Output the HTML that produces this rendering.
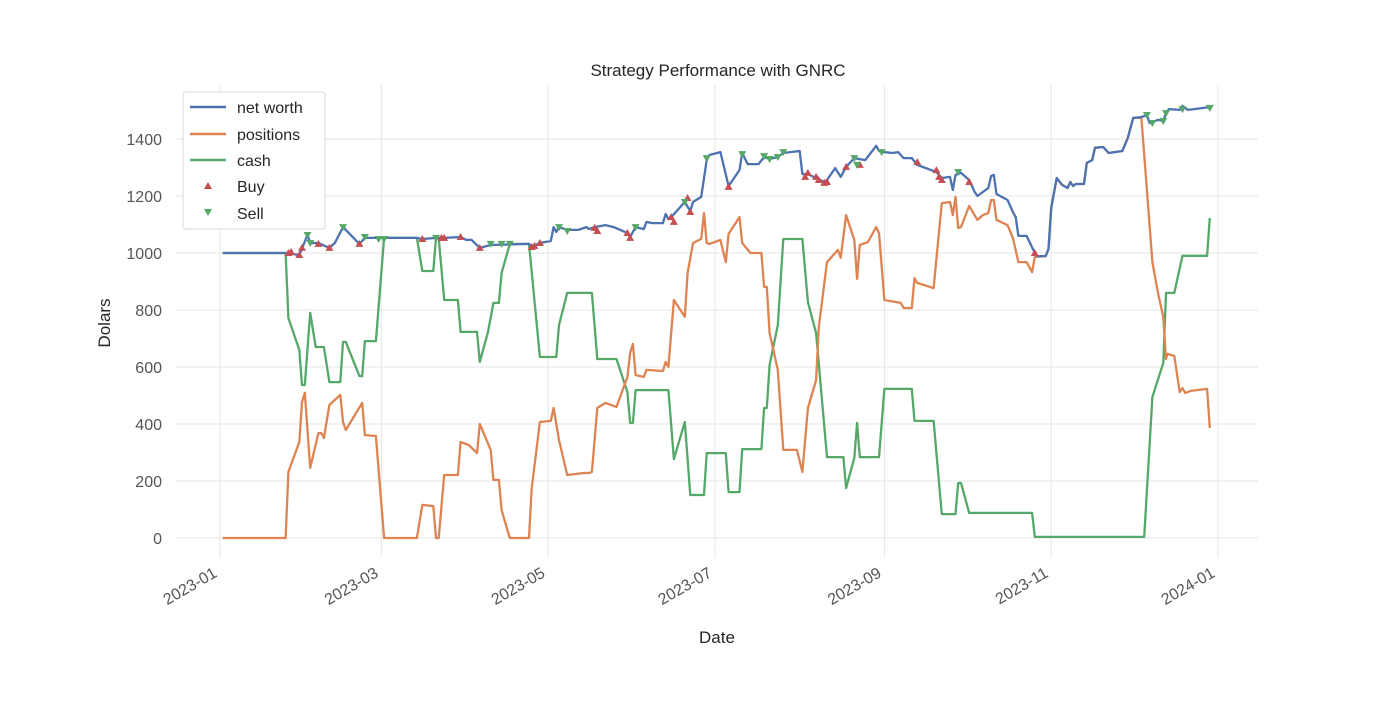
<!DOCTYPE html>
<html><head><meta charset="utf-8"><style>
body{margin:0;background:#fff;}
svg text{font-family:"Liberation Sans","DejaVu Sans",sans-serif;}
</style></head><body>
<svg id="chart" width="1400" height="700" xmlns="http://www.w3.org/2000/svg">
<rect x="0" y="0" width="1400" height="700" fill="#fff"/>
<g id="grid"></g>
<g id="series"></g>
<g id="axes"></g>
<text x="718" y="76" text-anchor="middle" font-size="17" fill="#262626">Strategy Performance with GNRC</text>
<text x="717" y="643" text-anchor="middle" font-size="17" fill="#262626">Date</text>
<text x="0" y="0" transform="translate(110,323) rotate(-90)" text-anchor="middle" font-size="17" fill="#262626">Dolars</text>
<g>
<rect x="183" y="92" width="142" height="137" rx="3" fill="#fff" fill-opacity="0.85" stroke="#d9d9d9"/>
<line x1="190" y1="107" x2="226" y2="107" stroke="#4c72b0" stroke-width="2.5"/>
<text x="237" y="113" font-size="16" fill="#262626">net worth</text>
<line x1="190" y1="134" x2="226" y2="134" stroke="#dd8452" stroke-width="2.5"/>
<text x="237" y="140" font-size="16" fill="#262626">positions</text>
<line x1="190" y1="160" x2="226" y2="160" stroke="#55a868" stroke-width="2.5"/>
<text x="237" y="166" font-size="16" fill="#262626">cash</text>
<polygon points="208,182 204,189 212,189" fill="#c44e52"/>
<text x="237" y="192" font-size="16" fill="#262626">Buy</text>
<polygon points="204,209 212,209 208,216" fill="#55a868"/>
<text x="237" y="219" font-size="16" fill="#262626">Sell</text>
</g>
</svg>
<script>
const xTickLabels=["2023-01","2023-03","2023-05","2023-07","2023-09","2023-11","2024-01"];
const xTickDays=[0,59,120,181,243,304,365];
const yTicks=[0,200,400,600,800,1000,1200,1400];
const netDays=[1,24,29,32,33,36,40,42,45,51,53,60,72,74,79,82,88,90,92,95,99,113,114,117,121,122,123,124,127,131,134,135,137,141,144,149,150,152,155,156,158,162,163,164,165,170,172,173,176,178,179,183,186,190,191,193,197,199,201,204,206,212,213,215,221,222,225,227,229,232,236,240,241,243,246,248,250,253,255,257,262,264,267,268,269,271,274,276,277,279,281,282,283,284,288,290,291,292,295,298,299,302,303,304,306,308,310,311,312,313,316,317,319,320,323,325,330,332,334,337,339,340,343,345,346,347,351,352,354,362];
const netValues=[1000,1000,993,1063,1035,1035,1018,1035,1091,1032,1053,1053,1053,1049,1053,1053,1056,1046,1046,1018,1028,1032,1021,1035,1042,1091,1074,1091,1081,1081,1091,1084,1091,1098,1091,1070,1056,1091,1084,1109,1105,1105,1137,1119,1126,1179,1147,1179,1197,1326,1344,1354,1235,1291,1351,1312,1312,1337,1330,1337,1351,1358,1277,1277,1249,1256,1298,1267,1302,1333,1326,1376,1358,1354,1351,1354,1333,1333,1309,1302,1284,1263,1267,1221,1274,1281,1256,1214,1200,1214,1228,1270,1274,1207,1186,1144,1126,1060,1060,1000,989,989,1014,1158,1263,1239,1228,1249,1235,1242,1242,1316,1326,1369,1372,1351,1358,1404,1474,1477,1484,1456,1467,1463,1491,1505,1502,1516,1502,1512];
const posDays=[1,24,25,29,30,31,33,36,37,38,40,44,45,46,52,53,57,60,72,74,78,79,80,82,87,88,91,94,95,99,100,102,103,106,113,114,117,121,122,124,127,133,135,136,138,141,145,149,150,151,152,155,156,162,163,164,166,170,171,173,176,177,178,179,183,185,186,190,191,194,198,199,200,201,204,206,211,213,215,218,219,222,226,227,229,232,233,234,237,240,241,243,249,250,253,254,255,261,264,267,268,269,270,271,274,277,279,281,282,283,284,288,290,292,295,297,298,302,303,304,306,308,310,311,312,313,316,317,319,320,323,325,330,332,334,337,341,343,345,346,346.5,349,351,352,353,355,361,362];
const posValues=[0,0,232,337,477,509,246,368,368,351,467,502,407,379,474,361,358,0,0,116,112,0,0,221,221,337,326,298,400,309,204,204,98,0,0,175,407,411,456,344,221,228,228,232,456,474,460,565,649,681,572,565,590,586,618,600,835,776,930,1035,1049,1140,1035,1032,1046,968,1067,1126,1035,1000,1000,881,881,719,590,309,309,232,456,554,740,968,1011,983,1133,1046,909,1028,1039,1091,1070,835,825,807,807,912,895,877,1175,1179,1133,1197,1088,1091,1165,1116,1133,1140,1186,1186,1116,1098,1053,968,968,933,986,989,1014,1158,1263,1239,1228,1249,1235,1242,1242,1316,1326,1369,1372,1351,1358,1404,1474,1474,968,863,775,628,646,639,512,526,509,516,523,386];
const cashDays=[1,24,25,29,30,31,33,35,38,40,44,45,46,51,52,53,57,60,72,74,78,79,80,82,87,88,94,95,98,100,102,103,106,113,117,123,124,127,136,138,145,149,150,151,152,164,166,170,172,177,178,185,186,190,191,198,199,200,201,204,206,213,215,218,222,228,229,232,233,234,241,243,253,254,261,264,269,270,271,274,297,298,338,341,345,346,349,352,361,362];
const cashValues=[1000,1000,772,660,537,537,790,670,670,547,547,688,688,568,568,691,691,1053,1053,937,937,1053,1053,835,835,723,723,618,723,825,825,930,1032,1032,635,635,747,860,860,628,628,512,404,404,519,519,277,407,151,151,298,298,161,161,312,312,456,456,607,747,1049,1049,828,719,284,284,175,281,404,284,284,523,523,411,411,84,84,193,193,88,88,4,4,495,614,860,860,990,990,1123];
const buyDays=[25,26,29,30,36,40,51,74,81,82,88,95,114,115,117,137,138,149,150,165,166,171,172,186,214,215,218,219,221,222,229,234,255,262,263,264,274,298];
const buyValues=[1000,1004,993,1018,1032,1018,1032,1049,1053,1053,1056,1018,1021,1025,1035,1088,1077,1070,1053,1126,1109,1193,1144,1232,1267,1281,1267,1256,1246,1249,1302,1309,1319,1291,1267,1256,1249,1000];
const sellDays=[32,33,45,53,58,60,79,99,103,106,124,127,152,170,178,191,199,201,204,206,232,233,242,270,339,341,345,346,352,362];
const sellValues=[1063,1035,1091,1056,1049,1049,1053,1032,1032,1032,1091,1077,1091,1179,1333,1347,1340,1330,1337,1354,1333,1309,1354,1284,1484,1456,1463,1491,1505,1509];

const NS="http://www.w3.org/2000/svg";
const X0=220,X1=1218,Y0=538,Y1=139;
function xs(d){return X0+(d/365)*(X1-X0);}
function ys(v){return Y0-(v/1400)*(Y0-Y1);}
function mk(tag,attrs,parent){const e=document.createElementNS(NS,tag);for(const k in attrs)e.setAttribute(k,attrs[k]);parent.appendChild(e);return e;}
const grid=document.getElementById('grid'),series=document.getElementById('series'),axes=document.getElementById('axes');
yTicks.forEach(v=>{
  const l=mk('line',{x1:175,x2:1258,y1:ys(v),y2:ys(v),stroke:'#e6e6e6','stroke-width':1},grid);
  
  
  const t=mk('text',{x:162,y:ys(v)+6,'text-anchor':'end','font-size':16,fill:'#555'},axes);
  
  
  t.textContent=v;
});
xTickDays.forEach((d,i)=>{
  const l=mk('line',{x1:xs(d),x2:xs(d),y1:85,y2:558,stroke:'#e6e6e6','stroke-width':1},grid);
  
  
  const t=mk('text',{x:0,y:0,'text-anchor':'end','font-size':16,fill:'#555',transform:`translate(${xs(d)-2},${576}) rotate(-30)`},axes);
  
  
  t.textContent=xTickLabels[i];
});
function line(days,vals,color,name){
  const p=days.map((d,i)=>xs(d).toFixed(1)+','+ys(vals[i]).toFixed(1)).join(' ');
  const e=mk('polyline',{points:p,fill:'none',stroke:color,'stroke-width':2.3,'stroke-linejoin':'round'},series);
  
  
}
line(cashDays,cashValues,'#55a868','cash-line');
line(posDays,posValues,'#dd8452','positions-line');
line(netDays,netValues,'#4c72b0','net-worth-line');
buyDays.forEach((d,i)=>{
  const x=xs(d),y=ys(buyValues[i]);
  const e=mk('polygon',{points:`${x},${y-4} ${x-4},${y+3} ${x+4},${y+3}`,fill:'#c44e52'},series);
  
  
});
sellDays.forEach((d,i)=>{
  const x=xs(d),y=ys(sellValues[i]);
  const e=mk('polygon',{points:`${x-4},${y-3} ${x+4},${y-3} ${x},${y+4}`,fill:'#55a868'},series);
  
  
});
</script>
</body></html>
